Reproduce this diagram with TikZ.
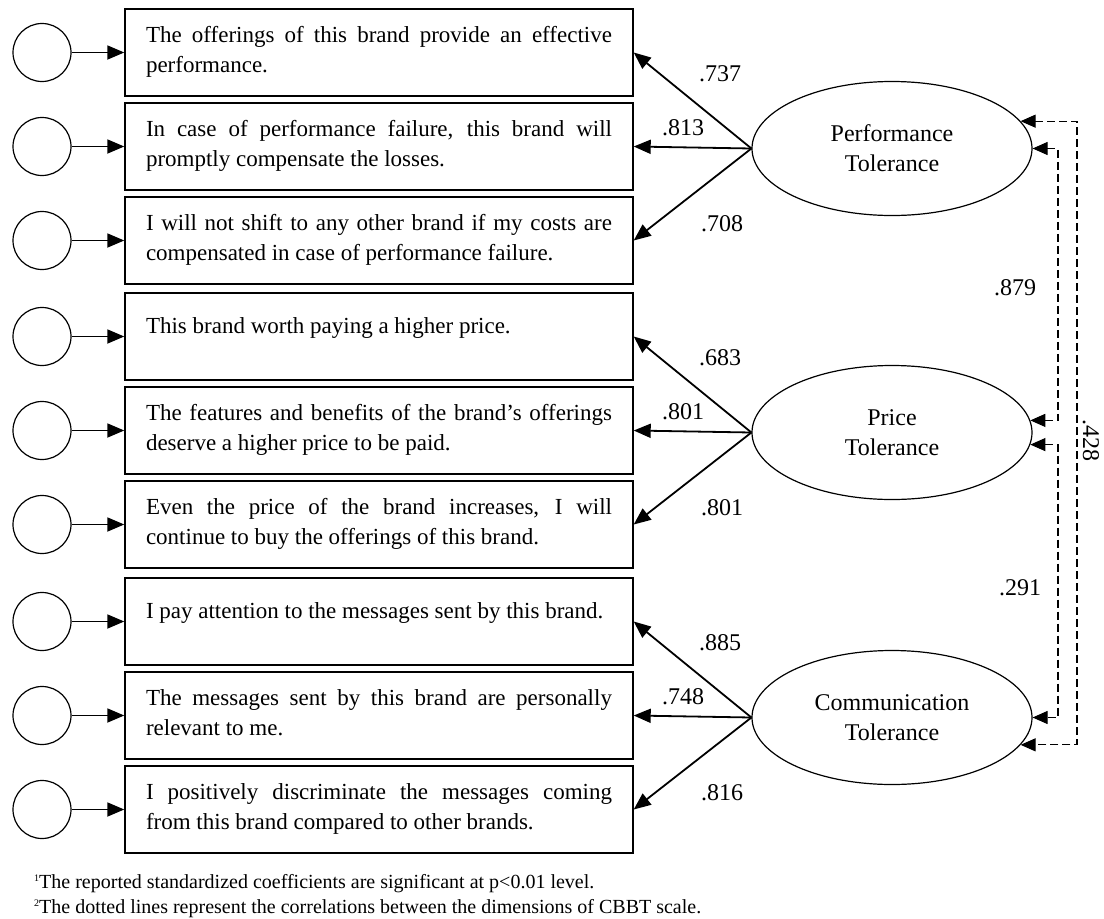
\documentclass[tikz,border=0pt]{standalone}
\usepackage{fontspec}
\setmainfont{Liberation Serif}
\usetikzlibrary{arrows.meta,shapes.geometric}
\newcommand{\fnmark}[1]{\raisebox{7pt}{\fontsize{10}{10}\selectfont #1}}
\begin{document}
\begin{tikzpicture}[x=1pt,y=-1pt,
  item/.style={draw, line width=1.4pt, text width=466pt, inner xsep=21pt, inner ysep=0pt,
    minimum height=87pt, align=justify, text height=33pt, text depth=54pt,
    font=\fontsize{23}{30}\selectfont},
  single/.style={text height=40pt, text depth=47pt},
  err/.style={draw, circle, line width=1.2pt, minimum size=58pt, inner sep=0pt},
  factor/.style={draw, ellipse, line width=1.2pt, minimum width=280pt, minimum height=134pt,
    inner sep=0pt, align=center, font=\fontsize{24}{30}\selectfont},
  arr/.style={line width=1.8pt, -{Triangle[length=17pt,width=14pt]}},
  corr/.style={line width=1.1pt, dash pattern=on 8pt off 4pt,
    {Triangle[length=15pt,width=13pt]}-{Triangle[length=15pt,width=13pt]}},
  coef/.style={font=\fontsize{24}{26}\selectfont, inner sep=0pt},
  note/.style={anchor=base west, inner sep=0pt, font=\fontsize{20}{25}\selectfont}
]
\useasboundingbox (0,0) rectangle (1104,919);

% indicator boxes
\node[item] (b1) at (379,52.5) {The offerings of this brand provide an effective\linebreak performance.};
\node[item] (b2) at (379,146.5) {In case of performance failure, this brand will\linebreak promptly compensate the losses.};
\node[item] (b3) at (379,240.5) {I will not shift to any other brand if my costs are\linebreak compensated in case of performance failure.};
\node[item,single] (b4) at (379,336.5) {This brand worth paying a higher price.};
\node[item] (b5) at (379,430.5) {The features and benefits of the brand’s offerings\linebreak deserve a higher price to be paid.};
\node[item] (b6) at (379,524.5) {Even the price of the brand increases, I will\linebreak continue to buy the offerings of this brand.};
\node[item,single] (b7) at (379,621.5) {I pay attention to the messages sent by this brand.};
\node[item] (b8) at (379,715.5) {The messages sent by this brand are personally\linebreak relevant to me.};
\node[item] (b9) at (379,809.5) {I positively discriminate the messages coming\linebreak from this brand compared to other brands.};

% error terms
\foreach \i/\y in {1/52.5,2/146.5,3/240.5,4/336.5,5/430.5,6/524.5,7/621.5,8/715.5,9/809.5}{
  \node[err] (e\i) at (42,\y) {};
  \draw[arr] (e\i) -- (b\i);
}

% factors
\node[factor] (P) at (892,148.5) {Performance\\Tolerance};
\node[factor] (R) at (892,432.5) {Price\\Tolerance};
\node[factor] (C) at (892,717.5) {Communication\\Tolerance};

% loadings
\draw[arr] (P.west) -- (b1.east);
\draw[arr] (P.west) -- (b2.east);
\draw[arr] (P.west) -- (b3.east);
\draw[arr] (R.west) -- (b4.east);
\draw[arr] (R.west) -- (b5.east);
\draw[arr] (R.west) -- (b6.east);
\draw[arr] (C.west) -- (b7.east);
\draw[arr] (C.west) -- (b8.east);
\draw[arr] (C.west) -- (b9.east);

\node[coef] (l1) at (720,73.5) {.737};
\node[coef] (l2) at (683,127.5) {.813};
\node[coef] (l3) at (722,223.5) {.708};
\node[coef] (l4) at (720,357.5) {.683};
\node[coef] (l5) at (683,411.5) {.801};
\node[coef] (l6) at (722,507.5) {.801};
\node[coef] (l7) at (720,642.5) {.885};
\node[coef] (l8) at (683,696.5) {.748};
\node[coef] (l9) at (722,792.5) {.816};

% correlations
\coordinate (ox) at (1077,0);
\coordinate (ix) at (1058,0);
\draw[corr] (P.12) -- (P.12 -| ox) -- (C.-12 -| ox) -- (C.-12);
\draw[corr] (P.east) -- (P.east -| ix) -- (R.5 -| ix) -- (R.5);
\draw[corr] (R.-5) -- (R.-5 -| ix) -- (C.east -| ix) -- (C.east);

\node[coef] (r1) at (1015,288) {.879};
\node[coef] (r2) at (1020,588) {.291};
\node[coef, rotate=-90] (r3) at (1091,440) {.428};

% notes
\node[note] (n1) at (34,888) {\fnmark{1}The reported standardized coefficients are significant at p<0.01 level.};
\node[note] (n2) at (34,913) {\fnmark{2}The dotted lines represent the correlations between the dimensions of CBBT scale.};
\end{tikzpicture}
\end{document}
